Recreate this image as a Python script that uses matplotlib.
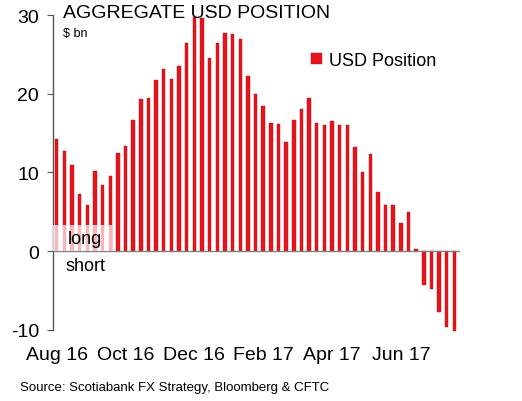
import matplotlib
matplotlib.use("Agg")
import matplotlib.pyplot as plt
from matplotlib.patches import Rectangle
import numpy as np

plt.rcParams['font.family'] = ['Liberation Sans', 'DejaVu Sans']

# weekly USD position, $ bn (Aug 2016 - Jul 2017)
values = [14.2, 12.7, 11.0, 7.2, 5.9, 10.2, 8.4, 9.5, 12.5, 13.3,
          16.7, 19.3, 19.5, 21.8, 23.2, 21.9, 23.5, 26.4, 29.8, 29.6,
          24.6, 26.5, 27.7, 27.6, 27.0, 22.3, 20.0, 18.4, 16.3, 16.1,
          13.9, 16.6, 18.1, 19.5, 16.3, 16.0, 16.5, 16.0, 16.0, 13.2,
          10.0, 12.4, 7.5, 5.9, 5.8, 3.6, 4.9, 0.3, -4.3, -4.8,
          -7.7, -9.6, -10.2]
tick_pos = [0, 9, 18, 27, 36, 45]
tick_labels = ['Aug 16', 'Oct 16', 'Dec 16', 'Feb 17', 'Apr 17', 'Jun 17']
y_ticks = [-10, 0, 10, 20, 30]

fig = plt.figure(figsize=(5.22, 4.02), dpi=100)
ax = fig.add_axes([0.1015, 0.1774, 0.78, 0.7826])

x = np.arange(len(values))
red = '#E8141C'
ax.bar(x, values, width=0.45, color=red, edgecolor='#B01018', linewidth=0.3,
       clip_on=False, zorder=2, label='USD Position')
ax.axhline(0, color='#808080', lw=1.0, zorder=3)

ax.set_xlim(-0.484, 52.75)
ax.set_ylim(-10, 30)

for s in ['top', 'right', 'bottom']:
    ax.spines[s].set_visible(False)
ax.spines['left'].set_color('#555555')
ax.spines['left'].set_linewidth(1.0)

ax.set_yticks(y_ticks)
ax.set_yticklabels([str(v) for v in y_ticks], fontsize=14)
ax.tick_params(axis='y', direction='out', length=4, color='#555555', pad=6)
ax.set_xticks(tick_pos)
ax.set_xticklabels(tick_labels, fontsize=14)
ax.tick_params(axis='x', length=0, pad=12)

# translucent box over bars behind "long"
ax.add_patch(Rectangle((-0.484, 0), 7.7, 3.3, facecolor='white', alpha=0.7,
                       edgecolor='none', zorder=4))
ax.text(1.4, 1.6, 'long', fontsize=13, va='center', ha='left', zorder=5)
ax.text(1.1, -1.8, 'short', fontsize=13, va='center', ha='left', zorder=5)

fig.text(63/522, 1 - 13/402, 'AGGREGATE USD POSITION', fontsize=14, va='center', ha='left')
fig.text(63/522, 1 - 34/402, '$ bn', fontsize=9, va='center', ha='left')

leg = ax.legend(loc='upper left', bbox_to_anchor=(311/522, 1 - 53/402),
                bbox_transform=fig.transFigure, frameon=False, fontsize=13,
                handlelength=0.6, handleheight=0.6, handletextpad=0.4,
                borderpad=0, borderaxespad=0)

fig.text(20/522, 1 - 388/402, 'Source: Scotiabank FX Strategy, Bloomberg & CFTC',
         fontsize=9.5, va='center', ha='left')

fig.savefig('out.png', dpi=100)
